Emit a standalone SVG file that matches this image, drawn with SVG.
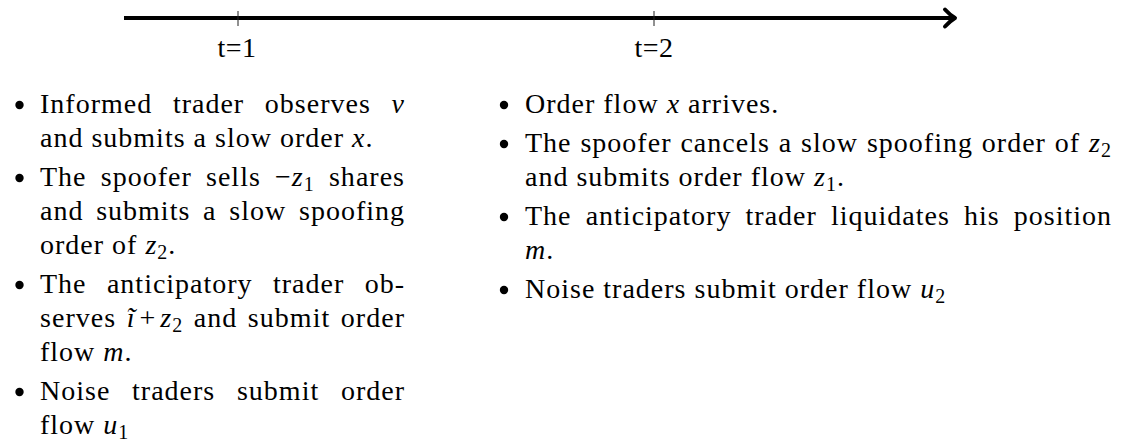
<svg xmlns="http://www.w3.org/2000/svg" width="1143" height="444" viewBox="0 0 1143 444">
  <style>
    text { font-family: "Liberation Serif", "DejaVu Serif", serif; font-size: 28px; letter-spacing: 1px; fill: #000; }
    .m { font-style: italic; }
    .sub { font-size: 20px; }
    .lbl { letter-spacing: 0.5px; }
    .axis { stroke: #000; stroke-width: 4; fill: none; }
    .tick { stroke: #222; stroke-width: 1; }
    .dot { fill: #000; }
  </style>
  <rect width="1143" height="444" fill="#fff"/>

  <!-- time axis with the two dates -->
  <g id="timeline">
    <line class="axis" x1="124" y1="18" x2="953" y2="18"/>
    <path class="axis" d="M945,9.5 Q950,15 955,18 Q950,21 945,26.5" stroke-width="3.4" stroke-linecap="round" stroke-linejoin="round"/>
    <line class="tick" x1="238" y1="11" x2="238" y2="26"/>
    <line class="tick" x1="654" y1="11" x2="654" y2="26"/>
    <text class="lbl" x="237" y="57" text-anchor="middle">t=1</text>
    <text class="lbl" x="654" y="57" text-anchor="middle">t=2</text>
  </g>

  <!-- what happens at t=1 -->
  <g id="events-t1">
    <circle class="dot" cx="19.5" cy="105" r="4.2"/>
    <text x="40" y="113" textLength="365" lengthAdjust="spacing" style="word-spacing:12.7px">Informed trader observes <tspan class="m">v</tspan></text>
    <text x="40" y="147">and submits a slow order <tspan class="m">x</tspan>.</text>

    <circle class="dot" cx="19.5" cy="178" r="4.2"/>
    <text x="40" y="186" textLength="365" lengthAdjust="spacing" style="word-spacing:6.2px">The spoofer sells −<tspan class="m">z</tspan><tspan class="sub" dy="5">1</tspan><tspan dy="-5"> shares</tspan></text>
    <text x="40" y="220" textLength="365" lengthAdjust="spacing" style="word-spacing:4.8px">and submits a slow spoofing</text>
    <text x="40" y="254">order of <tspan class="m">z</tspan><tspan class="sub" dy="5">2</tspan><tspan dy="-5">.</tspan></text>

    <circle class="dot" cx="19.5" cy="285" r="4.2"/>
    <text x="40" y="293" textLength="365" lengthAdjust="spacing" style="word-spacing:12.4px">The anticipatory trader ob-</text>
    <text x="40" y="327" textLength="365" lengthAdjust="spacing" style="word-spacing:2.4px">serves <tspan class="m">ĩ</tspan><tspan dx="4">+</tspan><tspan class="m" dx="4">z</tspan><tspan class="sub" dy="5">2</tspan><tspan dy="-5"> and submit order</tspan></text>
    <text x="40" y="361">flow <tspan class="m">m</tspan>.</text>

    <circle class="dot" cx="19.5" cy="392" r="4.2"/>
    <text x="40" y="400" textLength="365" lengthAdjust="spacing" style="word-spacing:13.7px">Noise traders submit order</text>
    <text x="40" y="434">flow <tspan class="m">u</tspan><tspan class="sub" dy="5">1</tspan></text>
  </g>

  <!-- what happens at t=2 -->
  <g id="events-t2">
    <circle class="dot" cx="504" cy="105" r="4.2"/>
    <text x="525" y="113">Order flow <tspan class="m">x</tspan> arrives.</text>

    <circle class="dot" cx="504" cy="144" r="4.2"/>
    <text x="525" y="152" textLength="587" lengthAdjust="spacing" style="word-spacing:0.9px">The spoofer cancels a slow spoofing order of <tspan class="m">z</tspan><tspan class="sub" dy="5">2</tspan></text>
    <text x="525" y="186">and submits order flow <tspan class="m">z</tspan><tspan class="sub" dy="5">1</tspan><tspan dy="-5">.</tspan></text>

    <circle class="dot" cx="504" cy="217" r="4.2"/>
    <text x="525" y="225" textLength="587" lengthAdjust="spacing" style="word-spacing:6.1px">The anticipatory trader liquidates his position</text>
    <text x="525" y="259"><tspan class="m">m</tspan>.</text>

    <circle class="dot" cx="504" cy="290" r="4.2"/>
    <text x="525" y="298">Noise traders submit order flow <tspan class="m">u</tspan><tspan class="sub" dy="5">2</tspan></text>
  </g>
</svg>
